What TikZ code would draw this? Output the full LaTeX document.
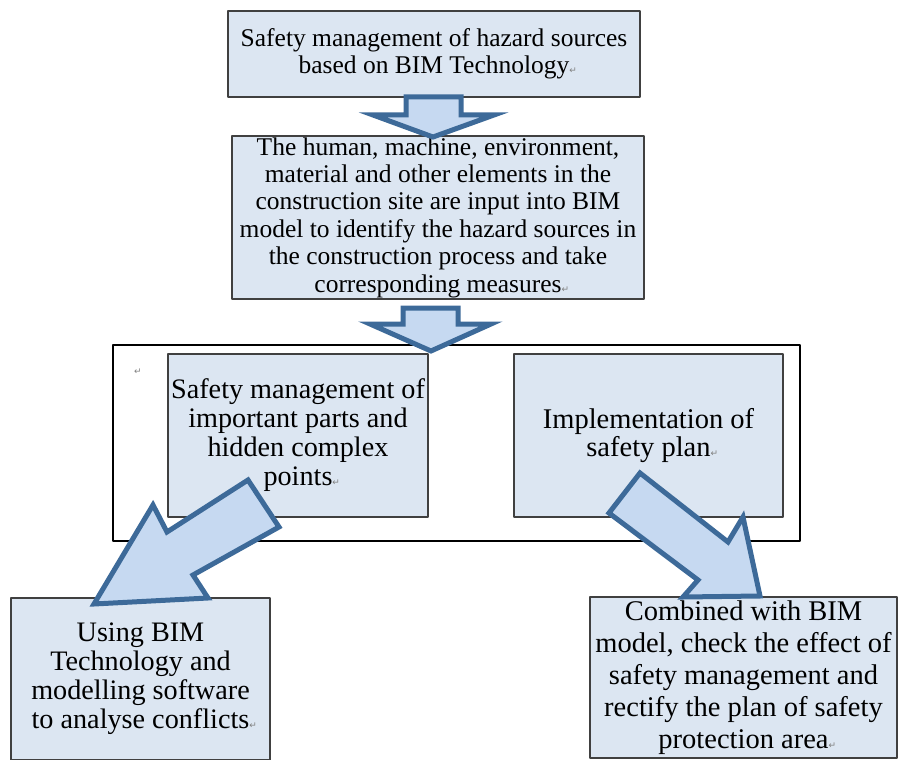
\documentclass[tikz,border=0pt]{standalone}
\usepackage{fontspec}
\setmainfont{Liberation Serif}
\newfontfamily\dejavu{DejaVu Sans}
\definecolor{boxfill}{HTML}{DCE6F2}
\definecolor{arrowfill}{HTML}{C6D9F1}
\definecolor{arrowline}{HTML}{3D6A99}
\definecolor{boxline}{HTML}{404040}
\begin{document}
\begin{tikzpicture}[x=1pt, y=-1pt, line join=round,
	box/.style={draw=boxline, line width=1.4pt, fill=boxfill, align=center, inner sep=0pt},
	blockarrow/.style={draw=arrowline, line width=5pt, fill=arrowfill, line join=miter}]
		\def\enter{\rlap{\textcolor{gray}{\dejavu\fontsize{9}{9}\selectfont ↵}}}
		\def\top{\fontsize{25.5}{27.4}\selectfont}
		\def\low{\fontsize{28.2}{29}\selectfont}
		\useasboundingbox (0,0) rectangle (898,760);
		% các hộp
		\node[box, minimum width=412, minimum height=86, font=\top] (source) at (434,54) {Safety management of hazard sources\\ based on BIM Technology\enter};
		\node[box, minimum width=412, minimum height=163, font=\top] (input) at (438,217.5) {The human, machine, environment,\\ material and other elements in the\\ construction site are input into BIM\\ model to identify the hazard sources in\\ the construction process and take\\ corresponding measures\enter};
		\node[draw, line width=1.4pt, minimum width=687, minimum height=196, inner sep=0pt] (group) at (456.5,443) {};
		\node[text=gray, font=\dejavu\fontsize{9}{9}\selectfont] (mark) at (138,372) {↵};
		\node[box, minimum width=260, minimum height=163, font=\low] (parts) at (298,435.5) {Safety management of\\ important parts and\\ hidden complex\\ points\enter};
		\node[box, minimum width=269, minimum height=163, font={\fontsize{28.5}{28}\selectfont}] (plan) at (648.5,435.5) {Implementation of\\ safety plan\enter};
		\node[box, minimum width=259, minimum height=162, font=\low] (conflict) at (140.5,679) {Using BIM\\ Technology and\\ modelling software\\ to analyse conflicts\enter};
		\node[box, minimum width=307, minimum height=161, font={\fontsize{28.5}{32}\selectfont}] (rectify) at (743.5,677.5) {Combined with BIM\\ model, check the effect of\\ safety management and\\ rectify the plan of safety\\ protection area\enter};
		% mũi tên khối
		\draw[blockarrow] (406,97)--(406,115)--(373,115)--(433,137)--(494,115)--(461,115)--(461,97)--cycle;
		\draw[blockarrow] (403,308)--(403,324)--(370,324)--(431,351)--(491,324)--(458,324)--(458,308)--cycle;
		\draw[blockarrow] (248,480)--(167,532)--(153,505)--(94,604)--(208,598)--(193,575)--(279,527)--cycle;
		\draw[blockarrow] (640,473)--(728,542)--(743,517)--(760,596)--(683,597)--(698,580)--(609,513)--cycle;
\end{tikzpicture}
\end{document}
